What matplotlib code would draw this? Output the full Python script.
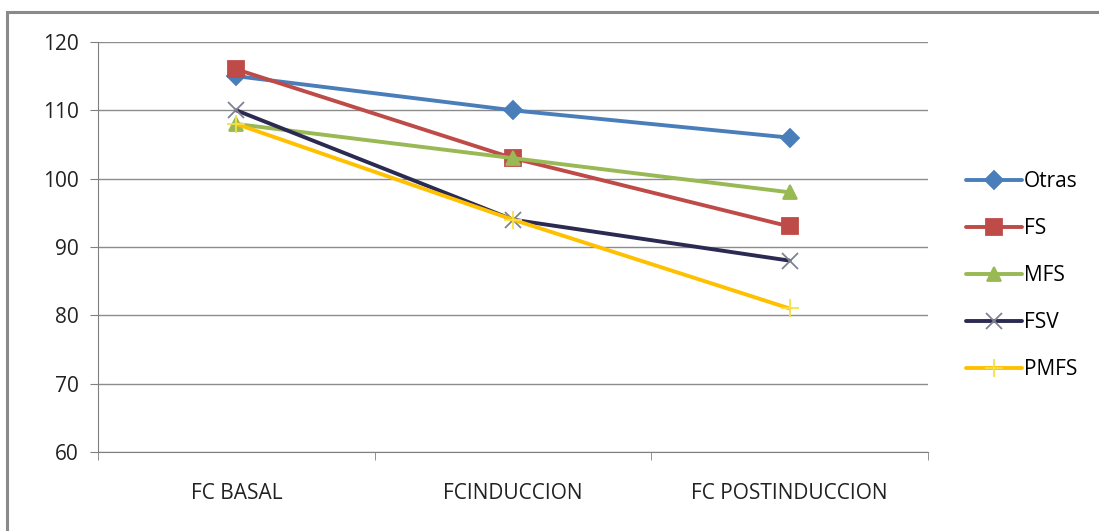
import matplotlib.pyplot as plt
from matplotlib.patches import Rectangle

# Heart-rate means per group at each stage
stages = ["FC BASAL", "FCINDUCCION", "FC POSTINDUCCION"]
otras = [115, 110, 106]
fs = [116, 103, 93]
mfs = [108, 103, 98]
fsv = [110, 94, 88]
pmfs = [108, 94, 81]

series = [
    ("Otras", otras, "#4A7EBB", "D", 9, "#4A7EBB"),
    ("FS", fs, "#BE4B48", "s", 11, "#BE4B48"),
    ("MFS", mfs, "#98B954", "^", 10, "#98B954"),
    ("FSV", fsv, "#2B2A52", "x", 11, "#7F8290"),
    ("PMFS", pmfs, "#FFC000", "+", 13, "#F5E04A"),
]

plt.rcParams["font.family"] = ["Open Sans", "DejaVu Sans"]
plt.rcParams["font.size"] = 15

fig = plt.figure(figsize=(10.99, 5.31), dpi=100)
ax = fig.add_axes([0.0892, 0.1488, 0.7552, 0.7721])

x = range(len(stages))
for name, vals, col, mk, ms, mcol in series:
    ax.plot(x, vals, color=col, lw=2.8, marker=mk, markersize=ms,
            markerfacecolor=mcol, markeredgecolor=mcol, markeredgewidth=1.3,
            label=name, solid_capstyle="round")

ax.set_xlim(-0.5, len(stages) - 0.5)
ax.set_ylim(60, 120)
ax.set_yticks(range(60, 121, 10))
ax.set_xticks(list(x))
ax.set_xticklabels(stages, color="#222222")
ax.set_xticks([i - 0.5 for i in range(len(stages) + 1)], minor=True)
ax.tick_params(axis="x", which="major", length=0, pad=22)
ax.tick_params(axis="x", which="minor", length=6, color="#808080", direction="out")
ax.tick_params(axis="y", length=6, color="#808080", pad=8, labelcolor="#222222")
ax.grid(axis="y", color="#8C8C8C", lw=1.0)
ax.set_axisbelow(True)
for s in ("top", "right"):
    ax.spines[s].set_visible(False)
ax.spines["left"].set_color("#808080")
ax.spines["bottom"].set_color("#808080")

ax.legend(loc="center left", bbox_to_anchor=(1.023, 0.43), frameon=False,
          labelspacing=1.25, handlelength=2.7, handletextpad=0.1,
          fontsize=15)

# outer chart frame
fig.patches.append(Rectangle((7 / 1099, -0.05), 1.2, 1 - 12 / 531 + 0.05,
                             transform=fig.transFigure, fill=False,
                             edgecolor="#8A8A8A", lw=2.2))

fig.savefig("out.png", dpi=100)
